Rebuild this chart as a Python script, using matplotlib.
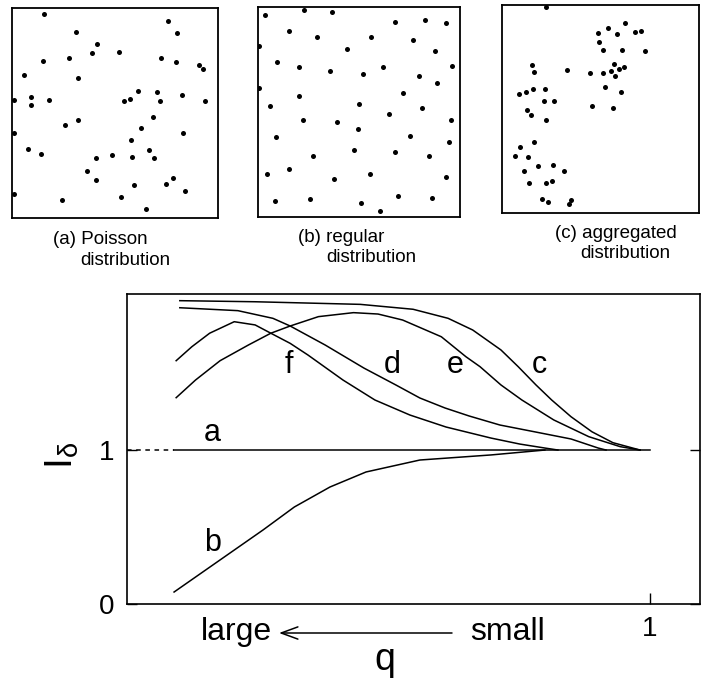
import matplotlib
matplotlib.use("Agg")
import matplotlib.pyplot as plt

plt.rcParams['font.family'] = ['Liberation Sans', 'DejaVu Sans']
plt.rcParams['mathtext.fontset'] = 'custom'
plt.rcParams['mathtext.rm'] = 'Liberation Sans'
plt.rcParams['mathtext.it'] = 'Liberation Sans'

W, H = 701, 678

# --- point patterns (panel pixel grid, y down) ---
poisson_x = [130, 505, 532, 229, 292, 275, 358, 127, 206, 482, 528, 597, 610, 70, 233,
             415, 472, 548, 42, 92, 92, 145, 372, 390, 480, 616, 460, 196, 233, 422,
             40, 550, 393, 84, 122, 446, 335, 395, 461, 289, 262, 287, 520, 497, 403,
             555, 40, 186, 362, 437]
poisson_y = [42, 63, 99, 97, 133, 160, 156, 183, 174, 176, 186, 197, 208, 225, 236,
             273, 277, 286, 302, 293, 316, 301, 303, 297, 305, 304, 352, 376, 360, 384,
             400, 400, 421, 447, 463, 450, 465, 471, 474, 474, 514, 540, 535, 553, 556,
             575, 583, 601, 592, 628]

regular_x = [75, 193, 277, 466, 555, 619, 147, 233, 394, 519, 58, 321, 585, 111, 178,
             272, 368, 428, 538, 637, 592, 58, 179, 488, 91, 357, 447, 545, 190, 291,
             356, 632, 108, 510, 343, 466, 628, 220, 568, 81, 148, 284, 391, 618, 106,
             210, 362, 475, 577, 420]
regular_y = [45, 30, 35, 66, 59, 67, 91, 109, 109, 118, 138, 145, 153, 185, 199,
             213, 220, 199, 226, 196, 248, 263, 286, 279, 318, 312, 340, 322, 360, 365,
             385, 358, 411, 406, 448, 454, 424, 466, 468, 520, 505, 535, 520, 530, 603,
             596, 609, 587, 594, 631]

aggregated_x = [166, 404, 354, 322, 380, 436, 452, 325, 340, 395, 466, 125, 130, 230, 298,
                338, 362, 372, 388, 401, 375, 346, 393, 87, 107, 127, 165, 162, 190, 305,
                368, 110, 121, 166, 130, 88, 75, 113, 142, 187, 101, 221, 115, 166, 184,
                155, 172, 236, 241]
aggregated_y = [20, 69, 85, 100, 103, 97, 93, 126, 150, 150, 153, 196, 217, 210, 218,
                220, 214, 192, 208, 200, 227, 262, 276, 283, 277, 268, 266, 304, 302, 318,
                324, 330, 347, 361, 426, 441, 470, 473, 500, 497, 513, 513, 550, 550, 543,
                599, 606, 612, 600]

# --- I_delta curves against q (q = 1 at x = 1) ---
a_dash_x = [0.0, 0.09]
a_x = [0.09, 1.0]
a_y = [1.0, 1.0]

b_x = [0.090, 0.175, 0.260, 0.320, 0.388, 0.457, 0.560, 0.696, 0.799]
b_y = [0.078, 0.280, 0.482, 0.632, 0.762, 0.860, 0.938, 0.971, 1.003]

c_x = [0.101, 0.245, 0.446, 0.547, 0.614, 0.661, 0.715, 0.748, 0.782, 0.812, 0.849,
       0.889, 0.929, 0.981]
c_y = [1.976, 1.969, 1.952, 1.920, 1.861, 1.785, 1.655, 1.546, 1.427, 1.329, 1.220,
       1.122, 1.051, 1.003]

d_x = [0.101, 0.212, 0.279, 0.312, 0.379, 0.453, 0.514, 0.560, 0.608, 0.654, 0.713,
       0.782, 0.849, 0.901, 0.916]
d_y = [1.930, 1.911, 1.861, 1.811, 1.687, 1.537, 1.427, 1.342, 1.277, 1.225, 1.166,
       1.120, 1.075, 1.016, 1.003]

e_x = [0.094, 0.131, 0.178, 0.232, 0.275, 0.312, 0.366, 0.433, 0.480, 0.527, 0.601,
       0.648, 0.675, 0.715, 0.755, 0.816, 0.883, 0.943, 0.981]
e_y = [1.344, 1.459, 1.585, 1.687, 1.764, 1.811, 1.872, 1.898, 1.889, 1.850, 1.741,
       1.611, 1.546, 1.427, 1.329, 1.199, 1.090, 1.025, 1.003]

f_x = [0.094, 0.124, 0.158, 0.205, 0.245, 0.275, 0.312, 0.346, 0.413, 0.474,
       0.541, 0.610, 0.696, 0.751, 0.799, 0.824]
f_y = [1.585, 1.676, 1.764, 1.839, 1.818, 1.764, 1.698, 1.622, 1.459, 1.329,
       1.231, 1.153, 1.081, 1.042, 1.016, 1.003]

curve_names = ['a', 'b', 'f', 'd', 'e', 'c']
label_x = [0.163, 0.163, 0.309, 0.507, 0.628, 0.789]
label_y = [1.114, 0.397, 1.557, 1.557, 1.557, 1.557]


def rect(x0, y0, x1, y1):
    """pixel box (top-left origin) -> figure fraction rect"""
    return [x0 / W, 1 - y1 / H, (x1 - x0) / W, (y1 - y0) / H]


def fx(x, y):
    return x / W, 1 - y / H


fig = plt.figure(figsize=(W / 100, H / 100), dpi=100)

panels = [
    (rect(12, 8, 218, 218), poisson_x, poisson_y, (35, 655), (655, 25)),
    (rect(258, 7, 460, 217), regular_x, regular_y, (55, 660), (650, 20)),
    (rect(502, 5, 699, 213), aggregated_x, aggregated_y, (35, 627), (640, 15)),
]
for box, px, py, xl, yl in panels:
    pa = fig.add_axes(box)
    pa.scatter(px, py, s=13, color='black', linewidths=0)
    pa.set_xlim(*xl)
    pa.set_ylim(*yl)
    pa.set_xticks([])
    pa.set_yticks([])
    for sp in pa.spines.values():
        sp.set_linewidth(1.3)

cap = dict(fontsize=13.5, ha='left', va='center')
fig.text(*fx(53, 240), "(a) Poisson", **cap)
fig.text(*fx(80, 260), "distribution", **cap)
fig.text(*fx(298, 238), "(b) regular", **cap)
fig.text(*fx(326, 258), "distribution", **cap)
fig.text(*fx(555, 233), "(c) aggregated", **cap)
fig.text(*fx(580, 253), "distribution", **cap)

# --- main chart ---
ax = fig.add_axes(rect(127, 294, 700, 604))
lw = 1.1
ax.plot(a_dash_x, a_y, color='black', lw=lw, linestyle=(0, (3, 3)))
ax.plot(a_x, a_y, color='black', lw=lw)
for xs, ys in [(b_x, b_y), (c_x, c_y), (d_x, d_y), (e_x, e_y), (f_x, f_y)]:
    ax.plot(xs, ys, color='black', lw=lw)

for name, lx, ly in zip(curve_names, label_x, label_y):
    ax.text(lx, ly, name, fontsize=22, ha='center', va='center')

ax.set_xlim(0, 1.0956)
ax.set_ylim(0, 2.0195)
ax.set_xticks([1])
ax.set_xticklabels(['1'], fontsize=20)
ax.set_yticks([0, 1])
ax.set_yticklabels(['0', '1'], fontsize=20)
ax.tick_params(axis='x', direction='in', length=8, width=1, pad=9)
ax.tick_params(axis='y', direction='in', length=7, width=1, pad=9, right=True)
for sp in ax.spines.values():
    sp.set_linewidth(1.2)

fig.text(*fx(62, 455), r'$\mathrm{I}_{\delta}$', fontsize=28, rotation=90,
         ha='center', va='center')

fig.text(*fx(236, 632), "large", fontsize=23, ha='center', va='center')
fig.text(*fx(508, 632), "small", fontsize=23, ha='center', va='center')
fig.text(*fx(385, 660), "q", fontsize=27, ha='center', va='center')
ax.annotate('', xy=fx(279, 633), xytext=fx(452, 633), xycoords='figure fraction',
            textcoords='figure fraction',
            arrowprops=dict(arrowstyle='->, head_length=0.6, head_width=0.22',
                            lw=1.1, color='black', mutation_scale=20,
                            shrinkA=0, shrinkB=0))

fig.savefig("out.png", dpi=100)
